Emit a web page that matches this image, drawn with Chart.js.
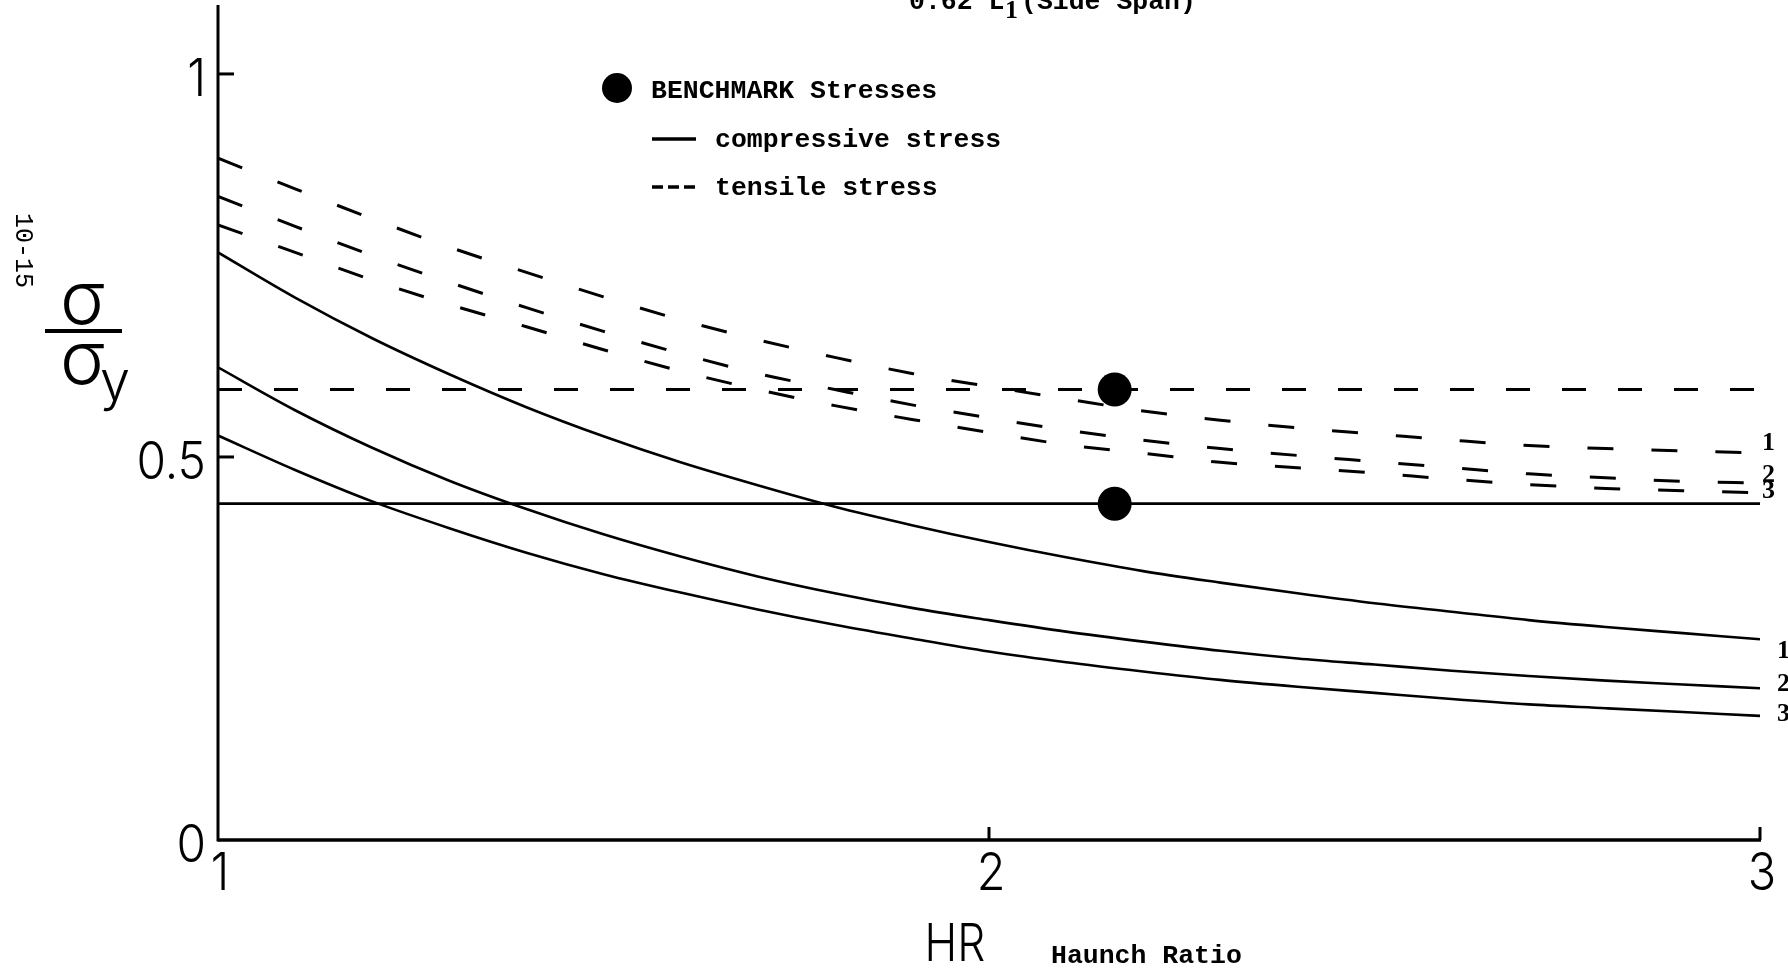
<!DOCTYPE html>
<html><head><meta charset="utf-8">
<script src="https://cdn.jsdelivr.net/npm/chart.js@4.4.1/dist/chart.umd.min.js"></script>
<style>html,body{margin:0;padding:0;background:#fff;}#wrap{width:1788px;height:970px;}</style>
</head><body><div id="wrap"><canvas id="c" width="1788" height="970"></canvas></div>
<script>
// ---- data ----
const haunchRatio = [1.0,1.1,1.2,1.3,1.4,1.5,1.6,1.7,1.8,1.9,2.0,2.1,2.2,2.3,2.4,2.5,2.6,2.7,2.8,2.9,3.0];
const compressive1 = [0.767,0.708,0.655,0.608,0.565,0.527,0.493,0.463,0.435,0.411,0.389,0.369,0.351,0.336,0.322,0.309,0.298,0.287,0.278,0.270,0.262];
const compressive2 = [0.617,0.561,0.512,0.469,0.432,0.399,0.370,0.344,0.322,0.303,0.287,0.272,0.259,0.247,0.237,0.229,0.221,0.214,0.208,0.203,0.198];
const compressive3 = [0.528,0.483,0.442,0.407,0.375,0.347,0.323,0.301,0.281,0.263,0.246,0.232,0.220,0.209,0.200,0.192,0.184,0.177,0.172,0.167,0.162];
const tensile1 = [0.890,0.850,0.811,0.774,0.741,0.709,0.679,0.653,0.630,0.609,0.592,0.576,0.560,0.548,0.538,0.530,0.522,0.515,0.511,0.508,0.505];
const tensile2 = [0.840,0.801,0.763,0.728,0.695,0.664,0.635,0.609,0.588,0.568,0.551,0.535,0.522,0.511,0.502,0.494,0.486,0.478,0.473,0.468,0.466];
const tensile3 = [0.803,0.767,0.731,0.699,0.670,0.640,0.612,0.588,0.567,0.549,0.532,0.516,0.505,0.493,0.486,0.479,0.471,0.464,0.459,0.456,0.453];
const limitRange = [1, 3];
const benchmarkTensile = 0.588;
const benchmarkCompressive = 0.439;
const benchmarkHR = 2.163;
const xTicks = [1, 2, 3];
const yTicks = [0, 0.5, 1];
const yTickLabels = ['0', '0.5', '1'];
const curveNames = ['1', '2', '3'];
const legendTexts = ['BENCHMARK Stresses', 'compressive stress', 'tensile stress'];
const titleParts = ['0.62 L', '1', '(Side Span)'];
const pageNumber = '10-15';
const xTitle = 'HR';
const xSubTitle = 'Haunch Ratio';

// ---- build datasets ----
const pts = arr => haunchRatio.map((x, i) => ({x: x, y: arr[i]}));
const TDASH = [26, 38];
const solid = (arr) => ({type:'line', data: pts(arr), borderColor:'#000', borderWidth:2.6, pointRadius:0, cubicInterpolationMode:'monotone', fill:false});
const dashed = (arr) => ({type:'line', data: pts(arr), borderColor:'#000', borderWidth:3, borderDash:TDASH, pointRadius:0, cubicInterpolationMode:'monotone', fill:false});

const datasets = [
  solid(compressive1), solid(compressive2), solid(compressive3),
  dashed(tensile1), dashed(tensile2), dashed(tensile3),
  {type:'line', data: limitRange.map(x => ({x: x, y: benchmarkCompressive})), borderColor:'#000', borderWidth:2.8, pointRadius:0, tension:0},
  {type:'line', data: limitRange.map(x => ({x: x, y: benchmarkTensile})), borderColor:'#000', borderWidth:3, borderDash:[24, 32], pointRadius:0, tension:0},
  {type:'scatter', data: [{x: benchmarkHR, y: benchmarkTensile}, {x: benchmarkHR, y: benchmarkCompressive}], pointRadius:17, pointBackgroundColor:'#000', pointBorderWidth:0, showLine:false}
];

const MONO = "bold 26.5px 'Liberation Mono', 'DejaVu Sans Mono', monospace";
const SERIF = "bold 26px 'Liberation Serif', 'DejaVu Serif', serif";
const THIN = "'Inter', 'Roboto', 'DejaVu Sans', sans-serif";

function thinText(ctx, txt, x, y, size, align, sx) {
  ctx.save();
  ctx.translate(x, y);
  ctx.scale(sx, 1);
  ctx.font = "300 " + size + "px " + THIN;
  ctx.textAlign = align;
  ctx.textBaseline = 'middle';
  ctx.fillText(txt, 0, 0);
  ctx.restore();
}

const decor = {
  id: 'decor',
  beforeDatasetsDraw(chart) {
    const ctx = chart.ctx, xs = chart.scales.x, ys = chart.scales.y;
    const x0 = xs.getPixelForValue(1), x3 = xs.getPixelForValue(3);
    const y0 = ys.getPixelForValue(0), yTop = ys.getPixelForValue(ys.max);
    ctx.save();
    ctx.strokeStyle = '#000';
    ctx.lineCap = 'butt';
    ctx.lineWidth = 3;
    ctx.beginPath(); ctx.moveTo(x0, yTop); ctx.lineTo(x0, y0 + 1.5); ctx.stroke();
    ctx.lineWidth = 3.5;
    ctx.beginPath(); ctx.moveTo(x0, y0); ctx.lineTo(x3 + 1, y0); ctx.stroke();
    ctx.lineWidth = 3;
    yTicks.forEach(v => { if (v > 0) { const y = ys.getPixelForValue(v); ctx.beginPath(); ctx.moveTo(x0, y); ctx.lineTo(x0 + 16, y); ctx.stroke(); } });
    xTicks.forEach(v => { if (v > 1) { const x = xs.getPixelForValue(v); ctx.beginPath(); ctx.moveTo(x, y0); ctx.lineTo(x, y0 - 13); ctx.stroke(); } });
    ctx.restore();
  },
  afterDraw(chart) {
    const ctx = chart.ctx, xs = chart.scales.x, ys = chart.scales.y;
    const x0 = xs.getPixelForValue(1), x3 = xs.getPixelForValue(3);
    const y0 = ys.getPixelForValue(0);
    ctx.save();
    ctx.fillStyle = '#000';
    ctx.strokeStyle = '#000';
    // tick labels
    yTicks.forEach((v, i) => thinText(ctx, yTickLabels[i], x0 - 12, ys.getPixelForValue(v) + 6, 52, 'right', 0.92));
    xTicks.forEach(v => thinText(ctx, String(v), xs.getPixelForValue(v) + 2, y0 + 34, 52, 'center', 0.9));
    // x title
    thinText(ctx, xTitle, 955, 945, 52, 'center', 0.85);
    ctx.font = MONO; ctx.textAlign = 'left'; ctx.textBaseline = 'alphabetic';
    ctx.fillText(xSubTitle, 1051, 963);
    // y title: sigma / sigma_y
    ctx.font = "300 74px " + THIN; ctx.textAlign = 'left'; ctx.textBaseline = 'alphabetic';
    ctx.fillText('σ', 60, 324);
    ctx.fillText('σ', 60, 384);
    ctx.font = "300 54px " + THIN;
    ctx.fillText('y', 100, 400);
    ctx.lineWidth = 4;
    ctx.beginPath(); ctx.moveTo(45, 331); ctx.lineTo(122, 331); ctx.stroke();
    // page number
    ctx.save();
    ctx.translate(10, 213); ctx.rotate(Math.PI / 2);
    ctx.font = "25px 'Liberation Mono', 'DejaVu Sans Mono', monospace";
    ctx.textAlign = 'left'; ctx.textBaseline = 'bottom';
    ctx.fillText(pageNumber, 0, 0);
    ctx.restore();
    // title (cut by top edge)
    ctx.font = MONO; ctx.textAlign = 'left'; ctx.textBaseline = 'alphabetic';
    ctx.fillText(titleParts[0], 909, 9);
    ctx.font = SERIF; ctx.fillText(titleParts[1], 1005, 18);
    ctx.font = MONO; ctx.fillText(titleParts[2], 1021, 9);
    // legend
    ctx.beginPath(); ctx.arc(617, 88, 15, 0, Math.PI * 2); ctx.fill();
    ctx.font = MONO; ctx.textBaseline = 'middle';
    ctx.fillText(legendTexts[0], 651, 91);
    ctx.lineWidth = 3.5;
    ctx.beginPath(); ctx.moveTo(652, 139); ctx.lineTo(696, 139); ctx.stroke();
    ctx.fillText(legendTexts[1], 715, 140);
    ctx.setLineDash([11, 5]);
    ctx.beginPath(); ctx.moveTo(652, 187); ctx.lineTo(696, 187); ctx.stroke();
    ctx.setLineDash([]);
    ctx.fillText(legendTexts[2], 715, 188);
    // curve end labels
    ctx.font = SERIF; ctx.textBaseline = 'middle'; ctx.textAlign = 'left';
    const tEnds = [tensile1, tensile2, tensile3].map(a => ys.getPixelForValue(a[a.length - 1]));
    const tOff = [-10, -8, -2];
    tEnds.forEach((y, i) => ctx.fillText(curveNames[i], x3 + 2, y + tOff[i]));
    const cEnds = [compressive1, compressive2, compressive3].map(a => ys.getPixelForValue(a[a.length - 1]));
    const cOff = [12, -4, -2];
    cEnds.forEach((y, i) => ctx.fillText(curveNames[i], x3 + 17, y + cOff[i]));
    ctx.restore();
  }
};

new Chart(document.getElementById('c'), {
  data: { datasets: datasets },
  options: {
    responsive: false, animation: false, devicePixelRatio: 1,
    layout: { autoPadding: false, padding: { left: 218, right: 28, top: 5, bottom: 130 } },
    plugins: { legend: { display: false }, tooltip: { enabled: false } },
    scales: {
      x: { type: 'linear', min: 1, max: 3, display: false },
      y: { type: 'linear', min: 0, max: 1.09, display: false }
    }
  },
  plugins: [decor]
});
</script>
</body></html>
